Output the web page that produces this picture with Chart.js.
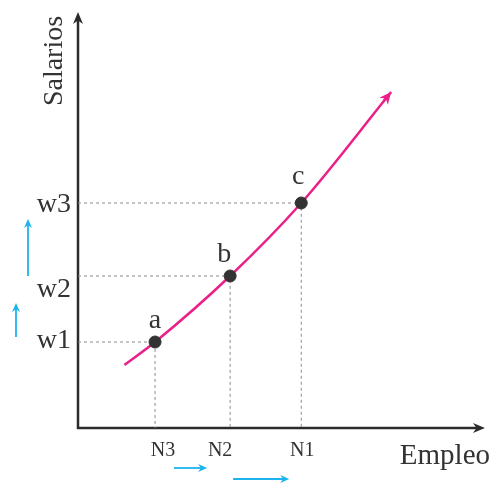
<!DOCTYPE html>
<html>
<head>
<meta charset="utf-8">
<script src="https://cdn.jsdelivr.net/npm/chart.js@4.4.0/dist/chart.umd.min.js"></script>
<style>
  html, body { margin: 0; padding: 0; background: #fff; }
  #caja { width: 492px; height: 484px; }
</style>
</head>
<body>
<div id="caja"><canvas id="grafico"></canvas></div>
<script>
// datos del grafico
const etiquetasN = ['N3', 'N2', 'N1'];
const empleo = [3.9, 7.7, 11.3];
const etiquetasW = ['w1', 'w2', 'w3'];
const salarios = [4.3, 7.6, 11.25];
const nombresPuntos = ['a', 'b', 'c'];
const curvaX = [2.35, 3.9, 7.7, 11.3, 15.85];
const curvaY = [3.15, 4.3, 7.6, 11.25, 16.8];

const fuente = '"Liberation Serif", "DejaVu Serif", serif';
const colorEje = '#2b2b2b';
const colorCurva = '#ea2088';
const colorCian = '#1db4ee';

let datasets = [];

// lineas punteadas guia
for (let i = 0; i < empleo.length; i++) {
    datasets.push({
        data: [{x: 0, y: salarios[i]}, {x: empleo[i], y: salarios[i]}, {x: empleo[i], y: 0}],
        showLine: true,
        borderColor: '#8a8a8a',
        borderWidth: 1,
        borderDash: [3, 3],
        pointRadius: 0,
        order: 3
    });
}

datasets.push({
    data: curvaX.map((x, i) => ({x: x, y: curvaY[i]})),
    showLine: true,
    borderColor: colorCurva,
    borderWidth: 2.5,
    cubicInterpolationMode: 'monotone',
    pointRadius: 0,
    order: 2
});

datasets.push({
    data: empleo.map((x, i) => ({x: x, y: salarios[i]})),
    showLine: false,
    pointRadius: 6,
    pointBackgroundColor: '#333',
    pointBorderColor: '#333',
    order: 1
});

function flecha(ctx, x0, y0, x1, y1, color, ancho, largo, mitad) {
    const ang = Math.atan2(y1 - y0, x1 - x0);
    ctx.save();
    ctx.strokeStyle = color;
    ctx.fillStyle = color;
    ctx.lineWidth = ancho;
    ctx.beginPath();
    ctx.moveTo(x0, y0);
    ctx.lineTo(x1 - Math.cos(ang) * largo * 0.6, y1 - Math.sin(ang) * largo * 0.6);
    ctx.stroke();
    ctx.translate(x1, y1);
    ctx.rotate(ang);
    ctx.beginPath();
    ctx.moveTo(0, 0);
    ctx.lineTo(-largo, -mitad);
    ctx.lineTo(-largo * 0.7, 0);
    ctx.lineTo(-largo, mitad);
    ctx.closePath();
    ctx.fill();
    ctx.restore();
}

const dibujos = {
    id: 'dibujos',
    beforeDatasetsDraw(chart) {
        const ctx = chart.ctx;
        const a = chart.chartArea;
        flecha(ctx, a.left, a.bottom + 1, a.left, a.top - 3, colorEje, 2.5, 12, 5);
        flecha(ctx, a.left - 1, a.bottom, a.right, a.bottom, colorEje, 2.5, 12, 5);
    },
    afterDraw(chart) {
        const ctx = chart.ctx;
        const a = chart.chartArea;
        const sx = chart.scales.x;
        const sy = chart.scales.y;

        // punta de la curva
        const meta = chart.getDatasetMeta(empleo.length);
        const ult = meta.data[meta.data.length - 1];
        let dx = ult.x - ult.cp1x, dy = ult.y - ult.cp1y;
        const n = Math.hypot(dx, dy) || 1;
        flecha(ctx, ult.x - dx / n * 12, ult.y - dy / n * 12, ult.x, ult.y, colorCurva, 2.5, 12, 5.5);

        ctx.save();
        ctx.fillStyle = '#333';
        ctx.textBaseline = 'alphabetic';

        // titulos de ejes
        ctx.font = '28px ' + fuente;
        ctx.save();
        ctx.translate(a.left - 16, a.top + 46);
        ctx.rotate(-Math.PI / 2);
        ctx.textAlign = 'center';
        ctx.fillText('Salarios', 0, 0);
        ctx.restore();
        ctx.textAlign = 'right';
        ctx.font = '29px ' + fuente;
        ctx.fillText('Empleo', a.right + 5, a.bottom + 36);

        // etiquetas w
        ctx.font = '28px ' + fuente;
        const bajarW = [6, 21, 9];
        etiquetasW.forEach((t, i) => {
            ctx.fillText(t, a.left - 7, sy.getPixelForValue(salarios[i]) + bajarW[i]);
        });

        // etiquetas N
        ctx.font = '20px ' + fuente;
        ctx.textAlign = 'center';
        const moverN = [8, -10, 1];
        etiquetasN.forEach((t, i) => {
            ctx.fillText(t, sx.getPixelForValue(empleo[i]) + moverN[i], a.bottom + 28);
        });

        // nombres de puntos
        ctx.font = '28px ' + fuente;
        const moverP = [[0, -14], [-6, -14], [-3, -19]];
        nombresPuntos.forEach((t, i) => {
            ctx.fillText(t, sx.getPixelForValue(empleo[i]) + moverP[i][0], sy.getPixelForValue(salarios[i]) + moverP[i][1]);
        });
        ctx.restore();

        // flechas cian
        const y1 = sy.getPixelForValue(salarios[0]);
        const y2 = sy.getPixelForValue(salarios[1]);
        const y3 = sy.getPixelForValue(salarios[2]);
        flecha(ctx, a.left - 62, y1 - 5, a.left - 62, y1 - 39, colorCian, 1.8, 9, 4);
        flecha(ctx, a.left - 50, y2, a.left - 50, y3 + 16, colorCian, 1.8, 9, 4);
        const x3 = sx.getPixelForValue(empleo[0]);
        const x2 = sx.getPixelForValue(empleo[1]);
        const x1 = sx.getPixelForValue(empleo[2]);
        flecha(ctx, x3 + 19, a.bottom + 40, x2 - 23, a.bottom + 40, colorCian, 1.8, 9, 4);
        flecha(ctx, x2 + 3, a.bottom + 51, x1 - 12, a.bottom + 51, colorCian, 1.8, 9, 4);
    }
};

new Chart(document.getElementById('grafico'), {
    type: 'scatter',
    data: { datasets: datasets },
    options: {
        responsive: true,
        maintainAspectRatio: false,
        animation: false,
        layout: { padding: { left: 78, top: 15, right: 2, bottom: 56 } },
        plugins: { legend: { display: false }, tooltip: { enabled: false } },
        scales: {
            x: { display: false, min: 0, max: 20.6 },
            y: { display: false, min: 0, max: 20.65 }
        },
        elements: { line: { tension: 0 } },
        clip: false
    },
    plugins: [dibujos]
});
</script>
</body>
</html>
